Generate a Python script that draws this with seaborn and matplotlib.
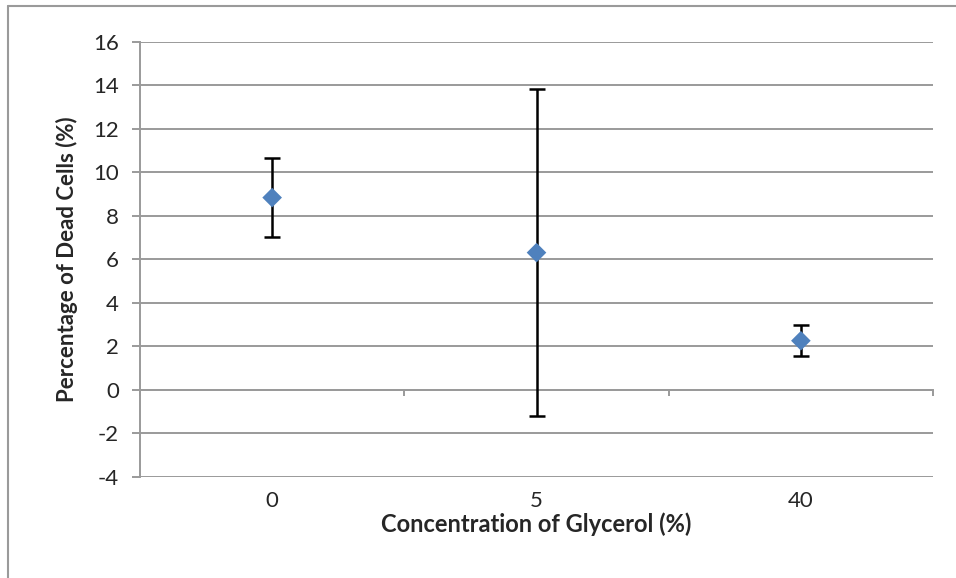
import matplotlib.pyplot as plt
import seaborn as sns
import numpy as np
from matplotlib.lines import Line2D

# values
concentrations = ['0', '5', '40']
dead_pct = [8.83, 6.3, 2.25]
dead_err = [1.8, 7.5, 0.7]
y_ticks = [-4, -2, 0, 2, 4, 6, 8, 10, 12, 14, 16]

GRID = '#9a9a9a'
BLUE = '#4F81BD'


def main():
    sns.set_style('white')
    plt.rcParams['font.family'] = ['Lato', 'DejaVu Sans']
    plt.rcParams['axes.unicode_minus'] = False

    fig = plt.figure(figsize=(9.56, 5.78), dpi=100)
    ax = fig.add_axes([0.1464, 0.1753, 0.976 - 0.1464, 0.928 - 0.1753])

    sns.scatterplot(x=concentrations, y=dead_pct, marker='D', s=100,
                    color=BLUE, edgecolor='none', zorder=4, ax=ax)
    ax.errorbar(concentrations, dead_pct, yerr=dead_err, fmt='none',
                ecolor='black', elinewidth=1.8, capsize=5.8, capthick=1.8,
                zorder=3)

    ymin, ymax = y_ticks[0], y_ticks[-1]
    ax.set_ylim(ymin, ymax)
    ax.set_xlim(-0.5, len(concentrations) - 0.5)
    ax.set_yticks(y_ticks)
    ax.grid(axis='y', color=GRID, lw=1.4)
    ax.set_axisbelow(True)

    for side in ['top', 'right', 'bottom']:
        ax.spines[side].set_visible(False)
    ax.spines['left'].set_color(GRID)
    ax.spines['left'].set_linewidth(1.4)

    ax.tick_params(axis='y', direction='out', length=6, width=1.4,
                   color=GRID, pad=9, labelsize=16, left=True)
    ax.tick_params(axis='x', length=0, pad=10, labelsize=16)

    # horizontal axis line crossing at y=0 with ticks between categories
    zero_frac = (0 - ymin) / (ymax - ymin)
    sec = ax.secondary_xaxis(zero_frac)
    sec.set_xticks(np.arange(len(concentrations) + 1) - 0.5)
    sec.tick_params(direction='out', length=4, width=1.4, color=GRID,
                    labelbottom=False, bottom=True)
    sec.spines['bottom'].set_color(GRID)
    sec.spines['bottom'].set_linewidth(1.4)

    ax.set_xlabel('Concentration of Glycerol (%)', fontsize=17,
                  fontweight='bold', labelpad=1)
    ax.set_ylabel('Percentage of Dead Cells (%)', fontsize=16,
                  fontweight='bold', labelpad=11)

    # chart frame (left and top edges visible in the reference)
    fig.add_artist(Line2D([0.0084, 0.0084], [0, 0.9896], color=GRID,
                          lw=1.5, transform=fig.transFigure))
    fig.add_artist(Line2D([0.0084, 1], [0.9896, 0.9896], color=GRID,
                          lw=1.5, transform=fig.transFigure))

    fig.savefig('out.png', dpi=100)


if __name__ == '__main__':
    main()
